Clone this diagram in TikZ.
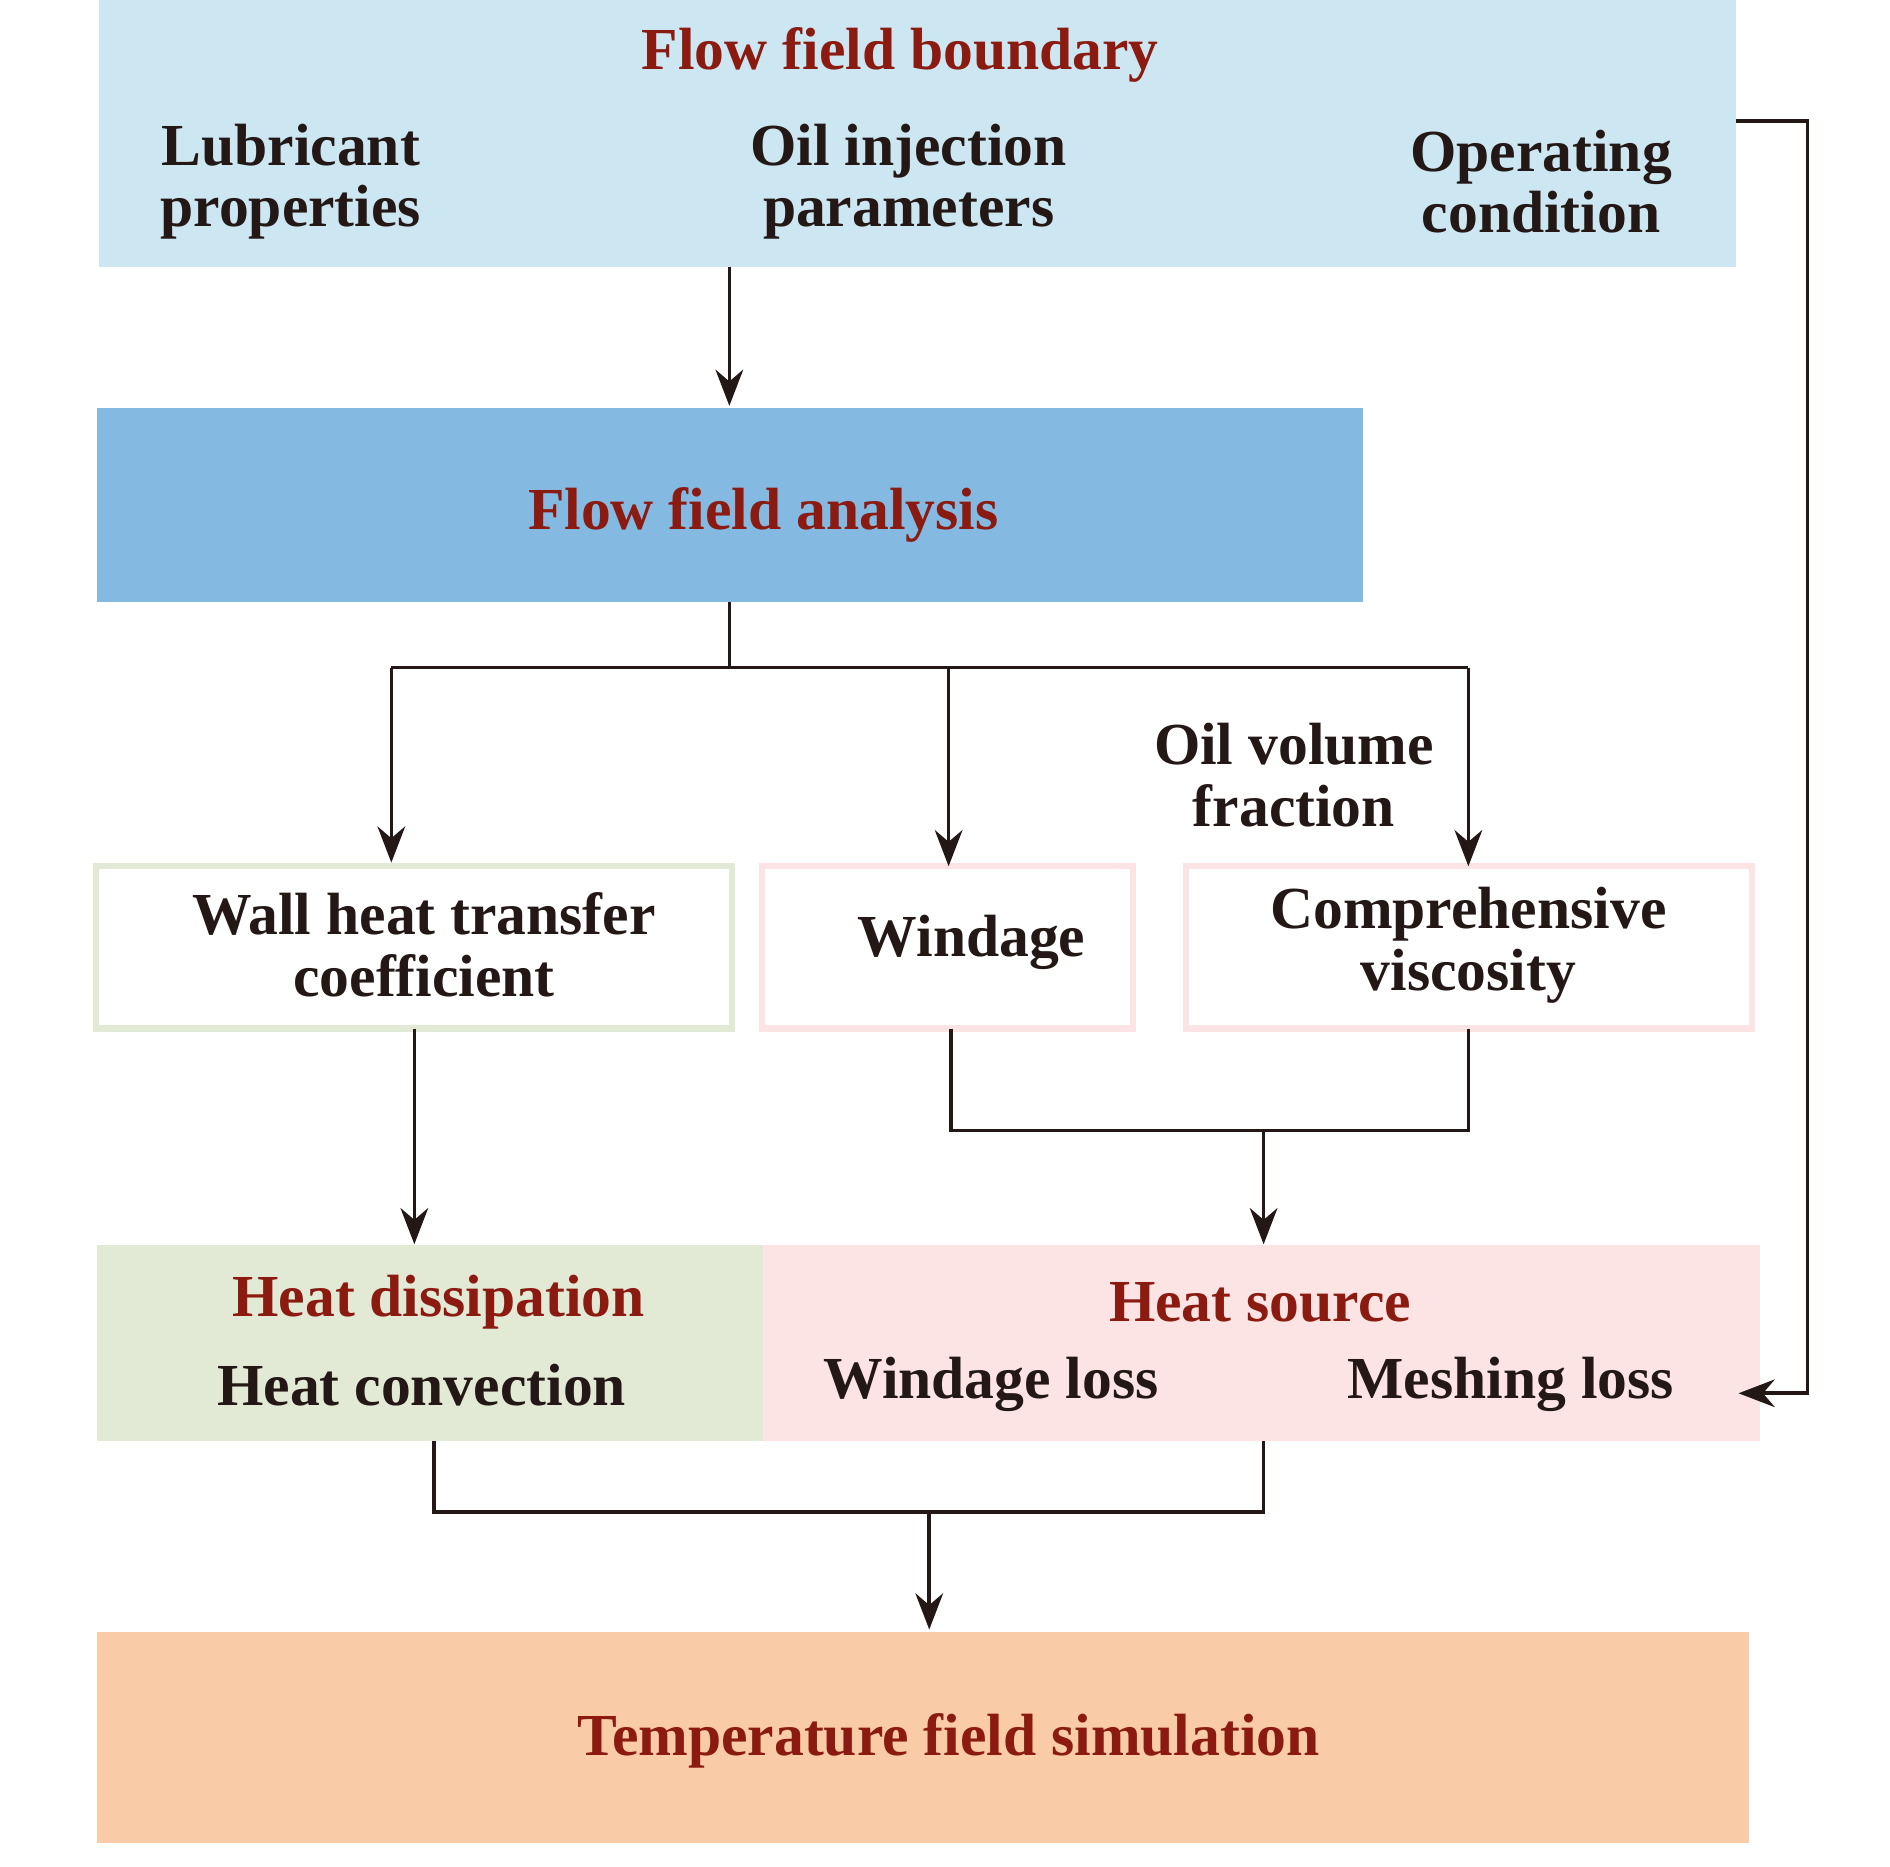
\documentclass[tikz,border=0pt]{standalone}
\usepackage{fontspec}
\setmainfont{Liberation Serif}
\usetikzlibrary{arrows.meta}
\definecolor{tred}{HTML}{8B1A10}
\definecolor{tblack}{HTML}{231815}
\definecolor{cblue}{HTML}{CCE6F2}
\definecolor{cblue2}{HTML}{84B9E2}
\definecolor{cgreen}{HTML}{E2E9D4}
\definecolor{cpink}{HTML}{FCE4E5}
\definecolor{corange}{HTML}{F9CBA7}
\begin{document}
\begin{tikzpicture}[x=0.02cm,y=-0.02cm,
  txt/.style={font=\fontsize{28}{29}\selectfont\bfseries,text=tblack,align=center,inner sep=0},
  ttl/.style={txt,text=tred},
  conn/.style={draw=tblack,line width=1.7pt},
  arr/.style={conn,-{Stealth[length=17pt,width=13pt]}}]
\useasboundingbox (0,0) rectangle (1560,1541);
% boxes
\fill[cblue] (82,0) rectangle (1433,220);
\fill[cblue2] (80,337) rectangle (1125,497);
\fill[cgreen] (80,1028) rectangle (630,1189);
\fill[cpink] (630,1028) rectangle (1453,1189);
\fill[corange] (80,1347) rectangle (1444,1521);
\draw[draw=cgreen,line width=3pt] (79,715) rectangle (604,849);
\draw[draw=cpink,line width=3pt] (629,715) rectangle (935,849);
\draw[draw=cpink,line width=3pt] (979,715) rectangle (1446,849);
% texts
\node[ttl] (fb) at (743,45) {Flow field boundary};
\node[txt] (lp) at (240,150) {Lubricant\\properties};
\node[txt] (oi) at (750,150) {Oil injection\\parameters};
\node[txt] (oc) at (1272,150) {Operating\\condition};
\node[ttl] (fa) at (630,425) {Flow field analysis};
\node[txt] (ov) at (1068,640) {Oil volume\\fraction};
\node[txt] (wh) at (350,780) {Wall heat transfer\\coefficient};
\node[txt] (wi) at (802,778) {Windage};
\node[txt] (cv) at (1212,780) {Comprehensive\\viscosity};
\node[ttl] (hd) at (362,1075) {Heat dissipation};
\node[txt] (hc) at (348,1143) {Heat convection};
\node[ttl] (hs) at (1040,1075) {Heat source};
\node[txt] (wl) at (818,1143) {Windage loss};
\node[txt] (ml) at (1247,1143) {Meshing loss};
\node[ttl] (tf) at (783,1437) {Temperature field simulation};
% coordinates
\coordinate (a0) at (602,220); \coordinate (a1) at (602,335);
\coordinate (b0) at (602,497); \coordinate (b1) at (602,551);
\coordinate (bl) at (323,551); \coordinate (bm) at (783,551); \coordinate (br) at (1212,551);
\coordinate (bl2) at (323,712); \coordinate (bm2) at (783,715); \coordinate (br2) at (1212,715);
\coordinate (c0) at (342,849); \coordinate (c1) at (342,1027);
\coordinate (d0) at (785,849); \coordinate (d1) at (785,933); \coordinate (d2) at (1212,933); \coordinate (d3) at (1212,849);
\coordinate (dm) at (1043,933); \coordinate (dm2) at (1043,1027);
\coordinate (e0) at (1433,100); \coordinate (e1) at (1492,100); \coordinate (e2) at (1492,1150); \coordinate (e3) at (1435,1150);
\coordinate (f0) at (358,1189); \coordinate (f1) at (358,1248); \coordinate (f2) at (1043,1248); \coordinate (f3) at (1043,1189);
\coordinate (fm) at (767,1248); \coordinate (fm2) at (767,1345);
% connectors
\draw[arr] (a0) -- (a1);
\draw[conn] (b0) -- (b1);
\draw[conn] (bl) -- (br);
\draw[arr] (bl) -- (bl2);
\draw[arr] (bm) -- (bm2);
\draw[arr] (br) -- (br2);
\draw[arr] (c0) -- (c1);
\draw[conn] (d0) -- (d1) -- (d2) -- (d3);
\draw[arr] (dm) -- (dm2);
\draw[arr] (e0) -- (e1) -- (e2) -- (e3);
\draw[conn] (f0) -- (f1) -- (f2) -- (f3);
\draw[arr] (fm) -- (fm2);
\end{tikzpicture}
\end{document}
